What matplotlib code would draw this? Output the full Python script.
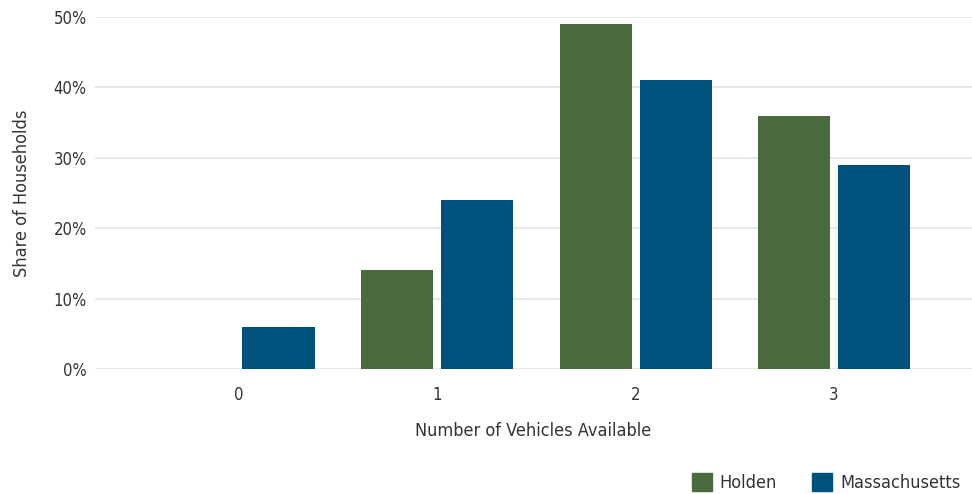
import matplotlib
matplotlib.use('Agg')
import matplotlib.pyplot as plt
import numpy as np
from matplotlib.patches import Patch

categories = ['0', '1', '2', '3']
holden = [0, 14, 49, 36]
massachusetts = [6, 24, 41, 29]
y_ticks = [0, 10, 20, 30, 40, 50]

plt.rcParams['font.family'] = ['DejaVu Sans']
plt.rcParams['font.stretch'] = 'condensed'
text_color = '#333333'

fig = plt.figure(figsize=(9.72, 4.94), dpi=100)
ax = fig.add_axes([95 / 972, 1 - 369 / 494, 877 / 972, 352 / 494])

x = np.arange(len(categories))
width = 0.363
ax.bar(x - 0.2015, holden, width, color='#4a6b3d', zorder=3)
ax.bar(x + 0.2015, massachusetts, width, color='#00527d', zorder=3)

ax.set_xlim(-0.723, 3.695)
ax.set_ylim(0, 50)
ax.set_yticks(y_ticks)
ax.set_yticklabels([f'{v}%' for v in y_ticks])
ax.set_xticks(x)
ax.set_xticklabels(categories)
ax.grid(axis='y', color='#e3e3e3', linewidth=1.2, zorder=0)
for s in ax.spines.values():
    s.set_visible(False)
ax.tick_params(length=0, labelsize=12, colors=text_color)
ax.tick_params(axis='y', pad=6)
ax.tick_params(axis='x', pad=12.5)

ax.set_xlabel('Number of Vehicles Available', fontsize=13, color=text_color, labelpad=13)
ax.set_ylabel('Share of Households', fontsize=13, color=text_color, labelpad=16)

handles = [Patch(color='#4a6b3d', label='Holden'), Patch(color='#00527d', label='Massachusetts')]
fig.legend(handles=handles, loc='lower right', bbox_to_anchor=(962 / 972, 0.0), ncol=2,
           frameon=False, fontsize=13, handlelength=1.1, handleheight=1.1,
           columnspacing=1.94, handletextpad=0.44, labelcolor=text_color,
           borderpad=0.1, borderaxespad=0)

fig.savefig('out.png', dpi=100)
